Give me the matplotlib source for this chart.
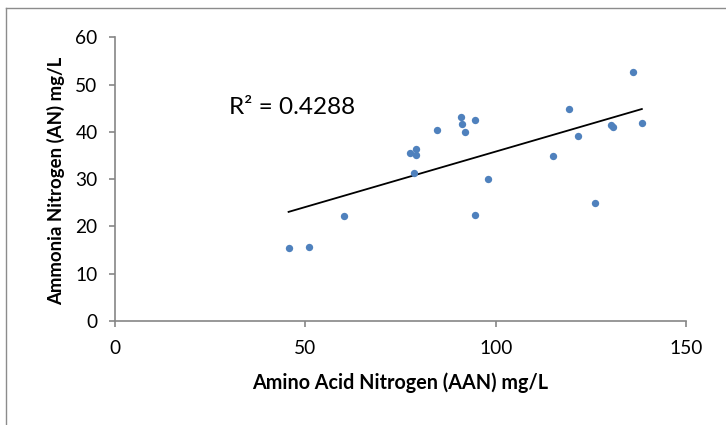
import matplotlib
matplotlib.use("Agg")
import matplotlib.pyplot as plt
from matplotlib.lines import Line2D
import numpy as np

aan = [45.6, 51.0, 60.1, 77.4, 79.2, 79.2, 78.6, 84.6, 91.0, 91.1, 91.9,
       94.6, 98.0, 94.5, 115.0, 119.2, 121.7, 126.2, 130.4, 130.7, 136.1, 138.4]
an = [15.5, 15.7, 22.2, 35.5, 36.4, 35.1, 31.4, 40.5, 43.1, 41.6, 40.0,
      42.5, 30.0, 22.5, 35.0, 44.9, 39.2, 24.9, 41.5, 41.0, 52.6, 41.8]
x_ticks = [0, 50, 100, 150]
y_ticks = [0, 10, 20, 30, 40, 50, 60]
r2_label = "R² = 0.4288"
x_label = "Amino Acid Nitrogen (AAN) mg/L"
y_label = "Ammonia Nitrogen (AN) mg/L"

plt.rcParams['font.family'] = ['Lato', 'DejaVu Sans']

W, H = 726, 425
fig = plt.figure(figsize=(W / 100, H / 100), dpi=100)
ax = fig.add_axes([115 / W, 1 - 321 / H, (686 - 115) / W, (321 - 37.3) / H])

ax.scatter(aan, an, s=28, color='#4F81BD', zorder=3, linewidths=0)

slope, intercept = np.polyfit(aan, an, 1)
xs = np.array([min(aan), max(aan)])
ax.plot(xs, slope * xs + intercept, color='black', lw=1.3, zorder=2)

ax.set_xlim(0, 150)
ax.set_ylim(0, 60)
ax.set_xticks(x_ticks)
ax.set_yticks(y_ticks)
for s in ['top', 'right']:
    ax.spines[s].set_visible(False)
for s in ['left', 'bottom']:
    ax.spines[s].set_color('#868686')
    ax.spines[s].set_linewidth(1.2)
ax.tick_params(axis='both', colors='#868686', labelcolor='black', length=4.5,
               width=1.2, labelsize=13.8)
ax.tick_params(axis='y', pad=8)
ax.tick_params(axis='x', pad=9)

ax.text(29.9, 43.8, r2_label, fontsize=17.5, ha='left', va='baseline')

fig.text(400 / W, 1 - 383 / H, x_label, fontsize=14.2, fontweight='bold',
         ha='center', va='center')
fig.text(56 / W, 1 - 181 / H, y_label, fontsize=13.4, fontweight='bold',
         ha='center', va='center', rotation=90)

# outer chart border
fig.add_artist(Line2D([6 / W, 6 / W], [1 - 8 / H, -0.1], transform=fig.transFigure,
                      color='#8c8c8c', lw=1.0))
fig.add_artist(Line2D([6 / W, 1.1], [1 - 8 / H, 1 - 8 / H], transform=fig.transFigure,
                      color='#8c8c8c', lw=1.0))

fig.savefig('out.png', dpi=100)
